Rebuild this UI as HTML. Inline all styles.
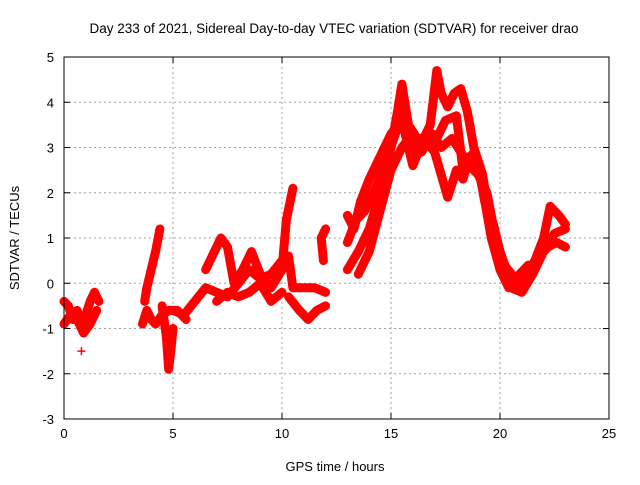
<!DOCTYPE html>
<html><head><meta charset="utf-8"><style>
body{margin:0;background:#fff;}
svg text{font-family:"Liberation Sans",Arial,sans-serif;font-size:13px;fill:#000;}
</style></head><body>
<svg id="chart" width="640" height="480" xmlns="http://www.w3.org/2000/svg">
<text x="334" y="33" text-anchor="middle" style="font-size:13.5px">Day 233 of 2021, Sidereal Day-to-day VTEC variation (SDTVAR) for receiver drao</text>
<text x="335" y="471" text-anchor="middle">GPS time / hours</text>
<text transform="translate(19,238) rotate(-90)" text-anchor="middle">SDTVAR / TECUs</text>
<g id="grid"></g><g id="marks"></g><g id="axes"></g>
</svg>
<script>
const xTicks=[0,5,10,15,20,25];
const yTicks=[-3,-2,-1,0,1,2,3,4,5];
const trackA1=[[0,-0.4],[0.2,-0.5],[0.4,-0.8],[0.6,-0.6],[0.8,-0.9],[1.0,-0.7],[1.2,-0.4],[1.4,-0.2],[1.6,-0.4]];
const trackA2=[[0,-0.9],[0.3,-0.7],[0.6,-0.8],[0.9,-1.1],[1.2,-0.9],[1.5,-0.6]];
const trackA3=[[0.8,-1.5]];
const trackB1=[[3.6,-0.9],[3.8,-0.6],[4.0,-0.8],[4.2,-0.9],[4.5,-0.7],[4.8,-0.6],[5.2,-0.6],[5.6,-0.8]];
const trackB2=[[3.7,-0.4],[3.8,-0.1],[4.0,0.3],[4.2,0.7],[4.4,1.2]];
const trackB3=[[4.5,-0.5],[4.7,-1.2],[4.8,-1.9],[4.9,-1.5],[5.0,-1.0]];
const trackC1=[[5,-0.6],[5.5,-0.7],[6,-0.4],[6.5,-0.1],[7,-0.2],[7.5,-0.3],[8,0],[8.5,0.3],[9,0.1],[9.5,0.2],[10,0.5],[10.3,0.6],[10.5,-0.1],[11,-0.1],[11.5,-0.1],[12,-0.2]];
const trackC2=[[6.5,0.3],[6.8,0.6],[7.2,1.0],[7.5,0.8],[7.8,0],[8.2,0.3],[8.6,0.7],[9,0.2],[9.5,-0.1],[10,0.3],[10.2,1.4],[10.5,2.1]];
const trackC3=[[10.3,-0.3],[10.8,-0.6],[11.2,-0.8],[11.6,-0.6],[12,-0.5]];
const trackC4=[[7,-0.4],[7.5,-0.2],[8,-0.3],[8.5,-0.2],[9,0.0],[9.5,-0.4],[10,-0.2]];
const trackC5=[[11.9,0.5],[11.8,1.0],[12,1.2]];
const trackD1=[[13,0.3],[13.5,0.7],[14,1.2],[14.5,2.0],[15,3.0],[15.3,3.8],[15.5,4.4],[15.8,3.5],[16.2,3.2],[16.5,3.2],[16.8,3.5],[17.1,4.7],[17.3,4.2],[17.6,3.9],[17.9,4.2],[18.2,4.3],[18.5,3.8],[18.8,3.0],[19.2,2.4],[19.5,1.5],[19.8,0.8],[20,0.3],[20.4,-0.1],[20.8,0.0],[21.2,0.2],[21.6,0.5],[22,1.0],[22.3,1.7],[22.7,1.5],[23,1.3]];
const trackD2=[[13,1.5],[13.3,1.2],[13.6,1.8],[14,2.3],[14.5,2.8],[15,3.3],[15.5,3.6],[16,2.6],[16.5,3.2],[17,2.9],[17.3,2.4],[17.6,1.9],[18,2.5],[18.3,2.3],[18.6,2.8],[19,2.6],[19.3,1.8],[19.7,1.3],[20,0.7],[20.3,0.3],[20.6,0.1],[21,0.0],[21.4,0.3],[21.8,0.6],[22.2,0.8],[22.6,0.9],[23,0.8]];
const trackD3=[[13.5,0.2],[14,0.7],[14.5,1.6],[15,2.5],[15.5,3.0],[16,3.3],[16.5,3.0],[17,3.1],[17.5,3.6],[18,3.7],[18.3,2.5],[18.8,2.9],[19.2,2.1],[19.6,1.0],[20,0.3],[20.5,-0.1],[21,-0.2],[21.5,0.2],[22,0.7],[22.5,1.1],[23,1.2]];
const trackD4=[[13,0.9],[13.4,1.4],[13.8,1.6],[14.2,2.0],[14.7,2.6],[15.2,3.3],[15.6,3.9],[16,3.0],[16.4,2.9],[16.9,3.3],[17.3,3.0],[17.8,3.2],[18.6,2.6],[19,2.4],[19.4,2.0],[19.8,1.0],[20.2,0.4],[20.7,0.1],[21.3,0.4]];
const tracks=[trackA1,trackA2,trackA3,trackB1,trackB2,trackB3,trackC1,trackC2,trackC3,trackC4,trackC5,trackD1,trackD2,trackD3,trackD4];

const L=64,R=609,T=57,B=419,NS="http://www.w3.org/2000/svg";
const xS=v=>L+(v-0)/(25-0)*(R-L);
const yS=v=>B-(v+3)/(5+3)*(B-T);
function mk(tag,attrs,parent){const e=document.createElementNS(NS,tag);for(const k in attrs)e.setAttribute(k,attrs[k]);parent.appendChild(e);return e;}
const grid=document.getElementById('grid'),marks=document.getElementById('marks'),axes=document.getElementById('axes');
xTicks.forEach(t=>{
 const x=xS(t);
 if(t>0&&t<25){const g=mk('line',{x1:x,x2:x,y1:T,y2:B,stroke:'#a0a0a0','stroke-dasharray':'2,3'},grid);
 
 }
 mk('line',{x1:x,x2:x,y1:B,y2:B-6,stroke:'#000'},axes);
 mk('line',{x1:x,x2:x,y1:T,y2:T+6,stroke:'#000'},axes);
 const tx=mk('text',{x:x,y:B+19,'text-anchor':'middle'},axes);tx.textContent=t;
 
 
});
yTicks.forEach(t=>{
 const y=yS(t);
 if(t>-3&&t<5){const g=mk('line',{x1:L,x2:R,y1:y,y2:y,stroke:'#a0a0a0','stroke-dasharray':'2,3'},grid);
 
 }
 mk('line',{x1:L,x2:L+6,y1:y,y2:y,stroke:'#000'},axes);
 mk('line',{x1:R,x2:R-6,y1:y,y2:y,stroke:'#000'},axes);
 const tx=mk('text',{x:L-10,y:y+5,'text-anchor':'end'},axes);tx.textContent=t;
 
 
});
const fr=mk('rect',{x:L,y:T,width:R-L,height:B-T,fill:'none',stroke:'#000'},axes);


tracks.forEach(tr=>{
 const pts=tr.map(p=>xS(p[0])+','+yS(p[1])).join(' ');
 const pl=mk('polyline',{points:pts,fill:'none',stroke:'#ff0000','stroke-width':9,'stroke-linejoin':'round','stroke-linecap':'round'},marks);
 
 
 tr.forEach(p=>{const x=xS(p[0]),y=yS(p[1]);
  const m=mk('path',{d:`M${x-4},${y}H${x+4}M${x},${y-4}V${y+4}`,stroke:'#ff0000','stroke-width':1.5},marks);
  
  
 });
});
</script>
</body></html>
